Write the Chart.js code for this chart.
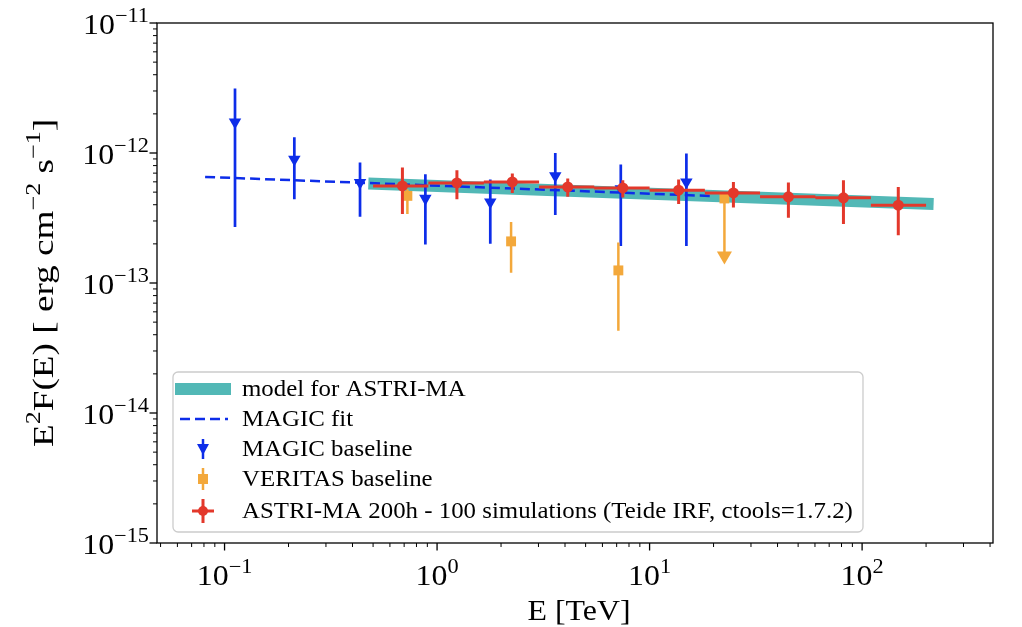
<!DOCTYPE html>
<html>
<head>
<meta charset="utf-8">
<title>E2F(E) spectrum</title>
<script src="https://cdn.jsdelivr.net/npm/chart.js@4.4.1/dist/chart.umd.min.js"></script>
<style>
    html, body { margin: 0; padding: 0; background: #fff; }
    #wrap { width: 1022px; height: 627px; }
</style>
</head>
<body>
<div id="wrap"><canvas id="sedChart" width="1022" height="627"></canvas></div>
<script>
// model for ASTRI-MA (power law, end points)
const modelE = [0.475, 217];
const modelF = [5.83e-13, 4.06e-13];

// MAGIC fit (dashed)
const magicFitE = [0.081, 20.0];
const magicFitF = [6.55e-13, 4.66e-13];

// MAGIC baseline
const magicE = [0.112, 0.213, 0.434, 0.881, 1.78, 3.60, 7.32, 14.9];
const magicF = [1.73e-12, 8.95e-13, 5.93e-13, 4.47e-13, 4.19e-13, 6.67e-13, 5.30e-13, 5.97e-13];
const magicFHi = [3.13e-12, 1.32e-12, 8.45e-13, 6.87e-13, 6.25e-13, 1.00e-12, 8.17e-13, 9.90e-13];
const magicFLo = [2.70e-13, 4.40e-13, 3.23e-13, 1.98e-13, 2.00e-13, 3.33e-13, 1.93e-13, 1.93e-13];

// VERITAS baseline
const veritasE = [0.725, 2.23, 7.13];
const veritasF = [4.68e-13, 2.09e-13, 1.25e-13];
const veritasFHi = [5.27e-13, 2.95e-13, 2.05e-13];
const veritasFLo = [3.39e-13, 1.20e-13, 4.30e-14];
// VERITAS upper limit
const veritasUlE = [22.5];
const veritasUlF = [4.47e-13];
const veritasUlEnd = [1.62e-13];

// ASTRI-MA 200h simulations
const astriE = [0.687, 1.24, 2.26, 4.12, 7.48, 13.7, 24.8, 45.0, 81.7, 148];
const astriEMin = [0.50, 0.91, 1.66, 3.02, 5.49, 10.0, 18.2, 33.1, 60.3, 110];
const astriEMax = [0.91, 1.66, 3.02, 5.49, 10.0, 18.2, 33.1, 60.3, 110, 200];
const astriF = [5.58e-13, 5.89e-13, 5.99e-13, 5.48e-13, 5.39e-13, 5.18e-13, 4.93e-13, 4.60e-13, 4.52e-13, 3.97e-13];
const astriFHi = [7.74e-13, 7.38e-13, 6.95e-13, 6.37e-13, 6.18e-13, 6.25e-13, 5.99e-13, 5.93e-13, 6.18e-13, 5.48e-13];
const astriFLo = [3.39e-13, 4.41e-13, 4.93e-13, 4.60e-13, 4.55e-13, 4.05e-13, 3.81e-13, 3.17e-13, 2.84e-13, 2.33e-13];

// axis decades
const xTickExps = [-1, 0, 1, 2];
const yTickExps = [-15, -14, -13, -12, -11];

const legendLabels = [
    'model for ASTRI-MA',
    'MAGIC fit',
    'MAGIC baseline',
    'VERITAS baseline',
    'ASTRI-MA 200h - 100 simulations (Teide IRF, ctools=1.7.2)'
];

const TEAL = '#52b8b6';
const BLUE = '#0d2de9';
const ORANGE = '#f3a83b';
const RED = '#e3382b';

const FONT = '"Liberation Serif", "Times New Roman", serif';

function pts(xs, ys) {
    return xs.map((x, i) => ({ x: x, y: ys[i] }));
}

// vertical error bars, null breaks the line between bars
function vBars(xs, lo, hi) {
    return xs.flatMap((x, i) => [{ x: x, y: lo[i] }, { x: x, y: hi[i] }, { x: x, y: null }]);
}

function hBars(ys, lo, hi) {
    return ys.flatMap((y, i) => [{ x: lo[i], y: y }, { x: hi[i], y: y }, { x: hi[i], y: null }]);
}

function setFont(ctx, px) {
    ctx.font = px + 'px ' + FONT;
}

// parts: [text, isSuperscript]; stretch widens the glyphs a bit (LaTeX look)
function richWidth(ctx, parts, size, stretch) {
    let w = 0;
    parts.forEach(([t, sup]) => {
        setFont(ctx, sup ? size * 0.7 : size);
        w += ctx.measureText(t).width;
    });
    return w * stretch;
}

function drawRich(ctx, parts, x, y, size, align, stretch = 1.1) {
    const w = richWidth(ctx, parts, size, stretch);
    const x0 = align === 'right' ? x - w : align === 'center' ? x - w / 2 : x;
    ctx.save();
    ctx.translate(x0, y);
    ctx.scale(stretch, 1);
    ctx.textAlign = 'left';
    ctx.textBaseline = 'alphabetic';
    let px = 0;
    parts.forEach(([t, sup]) => {
        setFont(ctx, sup ? size * 0.7 : size);
        ctx.fillText(t, px, sup ? -size * 0.42 : 0);
        px += ctx.measureText(t).width;
    });
    ctx.restore();
}

function powLabel(exp) {
    return [['10', false], [String(exp).replace('-', '\u2212'), true]];
}

const frame = {
    id: 'frame',
    afterDraw(chart) {
        const ctx = chart.ctx;
        const area = chart.chartArea;
        const xs = chart.scales.x;
        const ys = chart.scales.y;
        ctx.save();
        ctx.fillStyle = '#000';
        ctx.strokeStyle = '#000';

        // spines
        ctx.lineWidth = 1.3;
        ctx.strokeRect(area.left, area.top, area.right - area.left, area.bottom - area.top);

        // x ticks
        for (let e = -2; e <= 2; e++) {
            for (let m = 1; m <= 9; m++) {
                const v = m * Math.pow(10, e);
                if (v < xs.min || v > xs.max) continue;
                const px = xs.getPixelForValue(v);
                ctx.lineWidth = m === 1 ? 1.3 : 1;
                ctx.beginPath();
                ctx.moveTo(px, area.bottom);
                ctx.lineTo(px, area.bottom + (m === 1 ? 7.5 : 4));
                ctx.stroke();
            }
        }
        // y ticks
        for (let e = -15; e <= -11; e++) {
            for (let m = 1; m <= 9; m++) {
                const v = m * Math.pow(10, e);
                if (v < ys.min * 0.999 || v > ys.max * 1.001) continue;
                const py = ys.getPixelForValue(v);
                ctx.lineWidth = m === 1 ? 1.3 : 1;
                ctx.beginPath();
                ctx.moveTo(area.left, py);
                ctx.lineTo(area.left - (m === 1 ? 7.5 : 4), py);
                ctx.stroke();
            }
        }

        // tick labels
        xTickExps.forEach(e => {
            drawRich(ctx, powLabel(e), xs.getPixelForValue(Math.pow(10, e)), 585, 29, 'center');
        });
        yTickExps.forEach(e => {
            drawRich(ctx, powLabel(e), 149, ys.getPixelForValue(Math.pow(10, e)) + 11, 29, 'right');
        });

        // axis titles
        drawRich(ctx, [['E [TeV]', false]], (area.left + area.right) / 2 + 4, 620, 29, 'center');
        ctx.save();
        ctx.translate(53, (area.top + area.bottom) / 2);
        ctx.rotate(-Math.PI / 2);
        drawRich(ctx, [['E', false], ['2', true], ['F(E) [ erg cm', false], ['\u22122', true],
            [' s', false], ['\u22121', true], [']', false]], 0, 0, 30, 'center', 1.24);
        ctx.restore();

        drawLegend(ctx);
        ctx.restore();
    }
};

function drawLegend(ctx) {
    const bx = 173, by = 372, bw = 690, bh = 160, r = 5;
    ctx.save();
    ctx.beginPath();
    ctx.moveTo(bx + r, by);
    ctx.arcTo(bx + bw, by, bx + bw, by + bh, r);
    ctx.arcTo(bx + bw, by + bh, bx, by + bh, r);
    ctx.arcTo(bx, by + bh, bx, by, r);
    ctx.arcTo(bx, by, bx + bw, by, r);
    ctx.closePath();
    ctx.fillStyle = 'rgba(255,255,255,0.85)';
    ctx.fill();
    ctx.lineWidth = 1.3;
    ctx.strokeStyle = '#cccccc';
    ctx.stroke();

    const rows = [389, 419, 449, 479, 511];
    const hx = 203;

    // model
    ctx.fillStyle = TEAL;
    ctx.fillRect(175, rows[0] - 6, 56, 12);
    // MAGIC fit
    ctx.strokeStyle = BLUE;
    ctx.lineWidth = 2.5;
    ctx.setLineDash([10, 5]);
    ctx.beginPath();
    ctx.moveTo(180, rows[1]);
    ctx.lineTo(228, rows[1]);
    ctx.stroke();
    ctx.setLineDash([]);
    // MAGIC baseline
    ctx.beginPath();
    ctx.moveTo(hx, rows[2] - 10);
    ctx.lineTo(hx, rows[2] + 10);
    ctx.stroke();
    ctx.fillStyle = BLUE;
    ctx.beginPath();
    ctx.moveTo(hx - 6, rows[2] - 5);
    ctx.lineTo(hx + 6, rows[2] - 5);
    ctx.lineTo(hx, rows[2] + 6);
    ctx.closePath();
    ctx.fill();
    // VERITAS baseline
    ctx.strokeStyle = ORANGE;
    ctx.beginPath();
    ctx.moveTo(hx, rows[3] - 11);
    ctx.lineTo(hx, rows[3] + 11);
    ctx.stroke();
    ctx.fillStyle = ORANGE;
    ctx.fillRect(hx - 5, rows[3] - 5, 10, 10);
    // ASTRI
    ctx.strokeStyle = RED;
    ctx.lineWidth = 3;
    ctx.beginPath();
    ctx.moveTo(hx, rows[4] - 12);
    ctx.lineTo(hx, rows[4] + 12);
    ctx.moveTo(hx - 11, rows[4]);
    ctx.lineTo(hx + 11, rows[4]);
    ctx.stroke();
    ctx.fillStyle = RED;
    ctx.beginPath();
    ctx.arc(hx, rows[4], 5, 0, Math.PI * 2);
    ctx.fill();

    ctx.fillStyle = '#000';
    legendLabels.forEach((label, i) => {
        drawRich(ctx, [[label, false]], 242, rows[i] + 7, 22.6, 'left');
    });
    ctx.restore();
}

const lineDefaults = { pointRadius: 0, fill: false, tension: 0, spanGaps: false };

new Chart(document.getElementById('sedChart'), {
    type: 'line',
    data: {
        datasets: [
            { ...lineDefaults, label: 'model for ASTRI-MA', data: pts(modelE, modelF), borderColor: TEAL, borderWidth: 12, borderCapStyle: 'butt', order: 10 },
            { ...lineDefaults, label: 'MAGIC fit', data: pts(magicFitE, magicFitF), borderColor: BLUE, borderWidth: 2.5, borderDash: [10, 5], order: 9 },
            { ...lineDefaults, label: 'MAGIC bars', data: vBars(magicE, magicFLo, magicFHi), borderColor: BLUE, borderWidth: 2.7, order: 8 },
            { label: 'MAGIC baseline', data: pts(magicE, magicF), showLine: false, pointStyle: 'triangle', pointRotation: 180, pointRadius: 7.2, pointBackgroundColor: BLUE, pointBorderWidth: 0, order: 7 },
            { ...lineDefaults, label: 'VERITAS bars', data: vBars(veritasE, veritasFLo, veritasFHi).concat(vBars(veritasUlE, veritasUlEnd, veritasUlF)), borderColor: ORANGE, borderWidth: 2.5, order: 6 },
            { label: 'VERITAS baseline', data: pts(veritasE, veritasF).concat(pts(veritasUlE, veritasUlF)), showLine: false, pointStyle: 'rect', pointRadius: 7, pointBackgroundColor: ORANGE, pointBorderWidth: 0, order: 5 },
            { label: 'VERITAS UL', data: pts(veritasUlE, veritasUlEnd), showLine: false, pointStyle: 'triangle', pointRotation: 180, pointRadius: 8.7, pointBackgroundColor: ORANGE, pointBorderWidth: 0, order: 5 },
            { ...lineDefaults, label: 'ASTRI y bars', data: vBars(astriE, astriFLo, astriFHi), borderColor: RED, borderWidth: 3, order: 3 },
            { ...lineDefaults, label: 'ASTRI x bars', data: hBars(astriF, astriEMin, astriEMax), borderColor: RED, borderWidth: 3, borderCapStyle: 'butt', order: 2 },
            { label: 'ASTRI-MA 200h - 100 simulations (Teide IRF, ctools=1.7.2)', data: pts(astriE, astriF), showLine: false, pointStyle: 'circle', pointRadius: 5.5, pointBackgroundColor: RED, pointBorderWidth: 0, order: 1 }
        ]
    },
    options: {
        responsive: false,
        animation: false,
        events: [],
        layout: { padding: { left: 157, top: 23, right: 29, bottom: 84 } },
        scales: {
            x: { type: 'logarithmic', min: 0.0481, max: 413, display: false },
            y: { type: 'logarithmic', min: 1e-15, max: 1e-11, display: false }
        },
        plugins: {
            legend: { display: false },
            tooltip: { enabled: false }
        }
    },
    plugins: [frame]
});
</script>
</body>
</html>
